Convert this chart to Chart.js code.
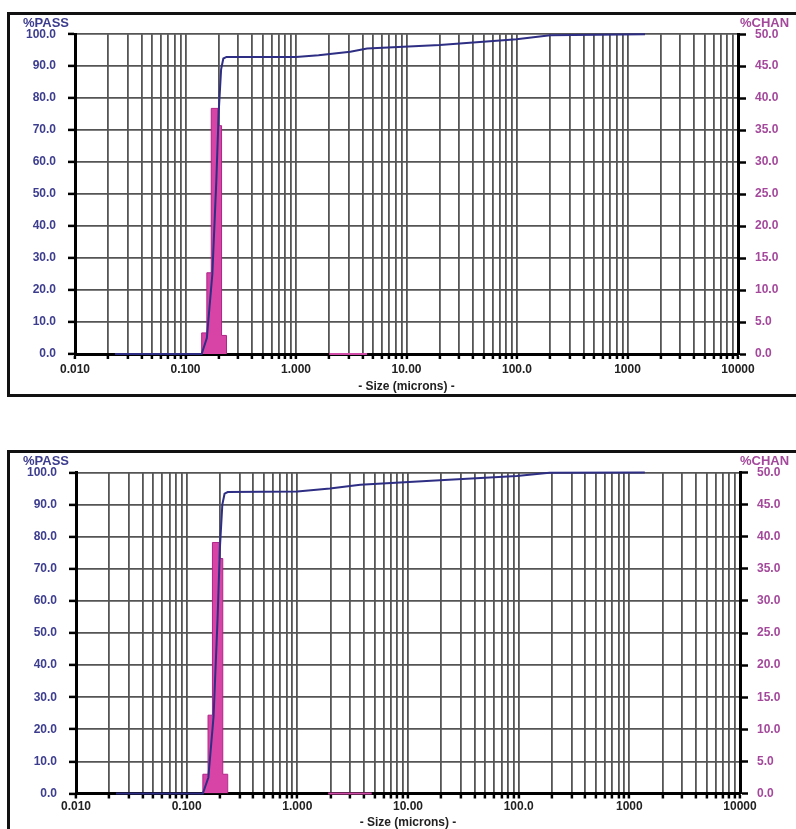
<!DOCTYPE html>
<html>
<head>
<meta charset="utf-8">
<script src="https://cdn.jsdelivr.net/npm/chart.js@4"></script>
<style>
  html, body { margin: 0; padding: 0; background: #fff; width: 796px; height: 829px; overflow: hidden; }
  .frame { position: absolute; border: 3px solid #111; box-sizing: border-box; }
  .box { position: absolute; }
  .lbl { position: absolute; font: bold 13px "Liberation Sans", Arial, sans-serif; line-height: 15px; }
  .pass { color: #3d3d8f; }
  .chan { color: #a4489c; }
</style>
</head>
<body>
<div class="frame" style="left:7px;top:12px;width:800px;height:385px;"></div>
<div class="frame" style="left:7px;top:450px;width:800px;height:420px;"></div>

<div class="box" style="left:10px;top:15px;"><canvas id="chartTop" width="786" height="378"></canvas></div>
<div class="box" style="left:10px;top:453px;"><canvas id="chartBottom" width="786" height="376"></canvas></div>

<div class="lbl pass" style="left:23px;top:15px;">%PASS</div>
<div class="lbl chan" style="left:740px;top:15px;">%CHAN</div>
<div class="lbl pass" style="left:23px;top:453px;">%PASS</div>
<div class="lbl chan" style="left:740px;top:453px;">%CHAN</div>

<script>
// Axis ticks
const xDecades = [0.01, 0.1, 1, 10, 100, 1000, 10000];
const xTickLabels = ["0.010", "0.100", "1.000", "10.00", "100.0", "1000", "10000"];

// Channel bins (microns) and %CHAN per bin
const binEdges = [0.140, 0.156, 0.171, 0.197, 0.212, 0.235];
const chanTop = [3.3, 12.7, 38.4, 35.7, 2.9];
const chanBottom = [3.0, 12.2, 39.1, 36.6, 3.0];

// Tiny channel tail lying on the baseline
const tailSizeTop = [2.0, 4.4];
const tailSizeBottom = [1.9, 4.7];

// Cumulative %PASS curves
const passSizeTop = [0.023, 0.140, 0.156, 0.175, 0.190, 0.200, 0.210, 0.220, 0.235, 1.0, 1.6, 3.1, 4.4, 20, 99, 200, 1440];
const passTop = [0, 0, 5, 25, 54, 76, 89, 92.4, 92.9, 92.9, 93.4, 94.5, 95.5, 96.6, 98.4, 99.7, 100];
const passSizeBottom = [0.023, 0.140, 0.157, 0.175, 0.190, 0.200, 0.210, 0.220, 0.235, 1.0, 1.97, 3.7, 19.4, 96, 190, 1380];
const passBottom = [0, 0, 5, 24, 54, 77, 90, 93.4, 93.9, 94.1, 95.0, 96.2, 97.6, 98.9, 99.9, 100];

const FONT = "'Liberation Sans', Arial, sans-serif";
const GRID = "#555";

// all log gridline positions: 1..9 x each decade
function xGridTicks() {
  const ticks = [];
  xDecades.forEach((d, i) => {
    ticks.push({ value: d, major: true, lbl: xTickLabels[i] });
    if (i < xDecades.length - 1) {
      for (let k = 2; k <= 9; k++) ticks.push({ value: k * d, major: false, lbl: "" });
    }
  });
  return ticks;
}

function buildChart(id, passSizes, passValues, chanValues, tailSizes, box) {
  const cumulative = passSizes.map((s, i) => ({ x: s, y: passValues[i] }));
  const histogram = binEdges.map((e, i) => ({ x: e, y: i < chanValues.length ? chanValues[i] : 0 }));
  histogram.unshift({ x: binEdges[0], y: 0 });
  const tail = tailSizes.map(s => ({ x: s, y: 0 }));

  return new Chart(document.getElementById(id), {
    type: "line",
    data: {
      datasets: [
        {
          data: cumulative,
          yAxisID: "y",
          borderColor: "#2e2e84",
          borderWidth: 2,
          pointRadius: 0,
          tension: 0,
          clip: false,
          order: 0
        },
        {
          data: tail,
          yAxisID: "y2",
          borderColor: "#d04aa8",
          borderWidth: 2,
          pointRadius: 0,
          clip: false,
          order: 1
        },
        {
          data: histogram,
          yAxisID: "y2",
          stepped: "before",
          fill: "origin",
          backgroundColor: "#d844a6",
          borderColor: "#b02488",
          borderWidth: 1,
          pointRadius: 0,
          order: 2
        }
      ]
    },
    options: {
      responsive: false,
      animation: false,
      layout: { padding: { top: box.top, left: 0, right: 0, bottom: 0 } },
      plugins: { legend: { display: false }, tooltip: { enabled: false } },
      scales: {
        x: {
          type: "logarithmic",
          min: 0.01,
          max: 10000,
          afterBuildTicks: scale => { scale.ticks = xGridTicks(); },
          afterFit: scale => { scale.height = box.xHeight; },
          ticks: {
            autoSkip: false,
            maxRotation: 0,
            padding: box.xPad,
            color: "#222",
            font: { family: FONT, size: 12, weight: "bold" },
            callback: (v, i, ticks) => ticks[i].lbl
          },
          grid: { color: GRID, lineWidth: 1.8, tickColor: "#000", tickLength: 5, tickWidth: 2.5 },
          border: { display: true, color: "#000", width: 3 },
          title: {
            display: true,
            text: "- Size (microns) -",
            color: "#222",
            padding: { top: 0, bottom: 0 },
            font: { family: FONT, size: 12, weight: "bold", lineHeight: 1 }
          }
        },
        y: {
          position: "left",
          min: 0,
          max: 100,
          afterFit: scale => { scale.width = box.left; },
          ticks: {
            stepSize: 10,
            padding: 12,
            color: "#3d3d8f",
            font: { family: FONT, size: 12, weight: "bold" },
            callback: v => v.toFixed(1)
          },
          grid: { color: GRID, lineWidth: 1.8, tickColor: "#000", tickLength: 7, tickWidth: 2.5 },
          border: { display: true, color: "#000", width: 3 }
        },
        y2: {
          position: "right",
          min: 0,
          max: 50,
          afterFit: scale => { scale.width = box.right; },
          ticks: {
            stepSize: 5,
            padding: 9,
            color: "#a4489c",
            font: { family: FONT, size: 12, weight: "bold" },
            callback: v => v.toFixed(1)
          },
          grid: { drawOnChartArea: false, tickColor: "#000", tickLength: 8, tickWidth: 2.5 },
          border: { display: true, color: "#000", width: 3 }
        }
      }
    }
  });
}

buildChart("chartTop", passSizeTop, passTop, chanTop, tailSizeTop,
  { top: 19, left: 65, right: 58, xHeight: 39, xPad: 3 });
buildChart("chartBottom", passSizeBottom, passBottom, chanBottom, tailSizeBottom,
  { top: 19.5, left: 66, right: 56, xHeight: 35.5, xPad: 1 });
</script>
</body>
</html>
